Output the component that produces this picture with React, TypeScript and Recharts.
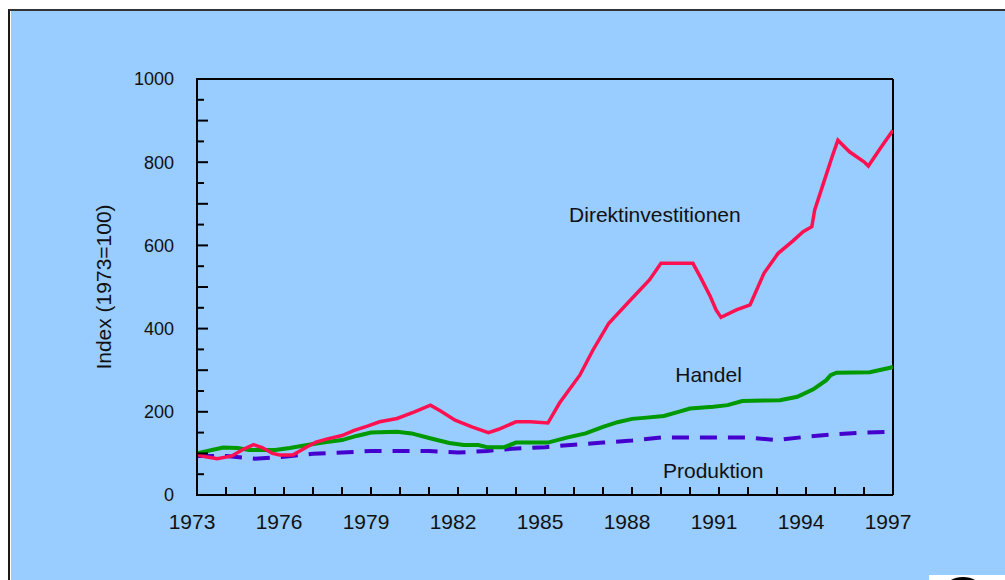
import React from 'react';
import { LineChart, Line, XAxis, YAxis, ReferenceLine, ReferenceDot } from 'recharts';

const FONT = '"Liberation Sans", Arial, Helvetica, sans-serif';

// Direktinvestitionen (index, 1973 = 100)
const fdiYears = [1973.0, 1973.3, 1973.7, 1974.2, 1974.6, 1974.95, 1975.25, 1975.6, 1975.85, 1976.3, 1976.5, 1976.8, 1977.1, 1977.5, 1978.0, 1978.4, 1978.9, 1979.3, 1979.9, 1980.5, 1981.05, 1981.4, 1981.9, 1982.5, 1983.05, 1983.4, 1984.0, 1984.5, 1985.1, 1985.5, 1986.2, 1986.65, 1987.2, 1987.9, 1988.6, 1989.0, 1990.1, 1990.35, 1990.7, 1990.9, 1991.07, 1991.6, 1992.07, 1992.55, 1993.04, 1993.55, 1993.9, 1994.2, 1994.3, 1994.6, 1994.9, 1995.1, 1995.5, 1996.0, 1996.15, 1996.6, 1997.0];
const fdiValues = [97, 92, 87, 94, 110, 121, 114, 100, 96, 96, 104, 116, 127, 135, 143, 155, 166, 176, 184, 200, 216, 202, 180, 163, 150, 158, 176, 176, 173, 221, 288, 348, 413, 465, 517, 557, 557, 525, 477, 445, 427, 445, 457, 533, 581, 611, 633, 645, 685, 749, 813, 853, 825, 801, 791, 837, 877];

// Handel
const tradeYears = [1973.0, 1973.9, 1974.4, 1974.8, 1975.7, 1976.2, 1976.8, 1977.4, 1978.0, 1978.5, 1979.0, 1979.9, 1980.4, 1981.0, 1981.7, 1982.2, 1982.7, 1983.0, 1983.6, 1984.0, 1985.1, 1985.75, 1986.4, 1987.0, 1987.5, 1988.0, 1988.5, 1989.1, 1989.6, 1990.0, 1990.8, 1991.3, 1991.8, 1993.1, 1993.7, 1994.25, 1994.7, 1994.85, 1995.05, 1996.2, 1996.9, 1997.0];
const tradeValues = [100, 114, 113, 108, 108, 113, 120, 127, 132, 142, 150, 152, 148, 137, 125, 120, 120, 115, 115, 126, 126, 138, 148, 164, 175, 183, 186, 190, 200, 208, 212, 216, 226, 228, 236, 254, 276, 288, 294, 295, 306, 308];

// Produktion
const prodYears = [1973, 1974, 1975, 1976, 1977, 1978, 1979, 1980, 1981, 1982, 1983, 1984, 1985, 1986, 1987, 1988, 1989, 1990, 1991, 1992, 1993, 1994, 1995, 1996, 1997];
const prodValues = [94, 94, 87, 92, 99, 102, 106, 106, 106, 102, 106, 112, 115, 121, 126, 131, 138, 138, 138, 138, 132, 140, 146, 150, 152];

const xTicks = [1973, 1974, 1975, 1976, 1977, 1978, 1979, 1980, 1981, 1982, 1983, 1984, 1985, 1986, 1987, 1988, 1989, 1990, 1991, 1992, 1993, 1994, 1995, 1996, 1997];
const xLabels = [1973, 1976, 1979, 1982, 1985, 1988, 1991, 1994, 1997];
const yTicks = [0, 50, 100, 150, 200, 250, 300, 350, 400, 450, 500, 550, 600, 650, 700, 750, 800, 850, 900, 950, 1000];
const yLabels = [0, 200, 400, 600, 800, 1000];

const seriesNames = ['Direktinvestitionen', 'Handel', 'Produktion'];
const labelPos = [
  { year: 1988.79, value: 674 },
  { year: 1990.64, value: 290 },
  { year: 1990.8, value: 58 },
];

const toRows = (xs: number[], vs: number[]) => xs.map((x, i) => ({ year: x, v: vs[i] }));
const fdiData = toRows(fdiYears, fdiValues);
const tradeData = toRows(tradeYears, tradeValues);
const prodData = toRows(prodYears, prodValues);

const XTick = (props: any) => {
  const { x, y, payload } = props;
  const v = payload.value;
  return (
    <g>
      <line x1={x} x2={x} y1={y} y2={y - 8} stroke="#000" strokeWidth={2} />
      {xLabels.includes(v) && (
        <text x={x - 5} y={y + 34} textAnchor="middle" fontSize={21} fill="#111" fontFamily={FONT}>
          {v}
        </text>
      )}
    </g>
  );
};

const YTick = (props: any) => {
  const { x, y, payload } = props;
  const v = payload.value;
  const major = v % 100 === 0;
  return (
    <g>
      <line x1={major ? x - 1 : x} x2={major ? x + 11 : x + 7} y1={y} y2={y} stroke="#000" strokeWidth={2} />
      {yLabels.includes(v) && (
        <text x={x - 23} y={y} dy={6.4} textAnchor="end" fontSize={18} fill="#111" fontFamily={FONT}>
          {v}
        </text>
      )}
    </g>
  );
};

const YTitle = (props: any) => {
  const vb = props.viewBox || { x: 97, y: 79, width: 100, height: 416 };
  const cx = vb.x + 6;
  const cy = vb.y + vb.height / 2;
  return (
    <text
      x={cx}
      y={cy}
      transform={`rotate(-90, ${cx}, ${cy})`}
      textAnchor="middle"
      dominantBaseline="central"
      fontSize={21}
      fill="#111"
      fontFamily={FONT}
    >
      Index (1973=100)
    </text>
  );
};

const AnnotationLabel = (text: string) => (props: any) => {
  const vb = props.viewBox || { x: 0, y: 0, width: 0, height: 0 };
  const cx = vb.x + (vb.width || 0) / 2;
  const cy = vb.y + (vb.height || 0) / 2;
  return (
    <text x={cx} y={cy} dy={7.5} textAnchor="middle" fontSize={21} fill="#111" fontFamily={FONT}>
      {text}
    </text>
  );
};

export default function App() {
  return (
    <div style={{ position: 'fixed', left: 0, top: 0, width: 1005, height: 580, overflow: 'hidden', background: '#fff' }}>
      <div
        style={{
          position: 'absolute',
          left: 8,
          top: 9,
          width: 1010,
          height: 600,
          background: '#99CCFF',
          borderLeft: '2px solid #1a1a1a',
          borderTop: '2px solid #333',
          boxShadow: 'inset 1px 0 0 #ffffff',
        }}
      />
      <div style={{ position: 'absolute', left: 929, top: 575, width: 80, height: 10, background: '#fff' }} />
      <div
        style={{
          position: 'absolute',
          left: 945,
          top: 577,
          width: 36,
          height: 20,
          borderTop: '3px solid #000',
          borderRadius: '50%',
        }}
      />
      <div style={{ position: 'absolute', left: 0, top: 0 }}>
        <LineChart width={1005} height={580} margin={{ top: 79, right: 112, bottom: 25, left: 97 }}>
          <XAxis
            dataKey="year"
            type="number"
            domain={[1973, 1997]}
            ticks={xTicks}
            interval={0}
            tickSize={0}
            tickMargin={0}
            tickLine={false}
            axisLine={{ stroke: '#000', strokeWidth: 2 }}
            tick={<XTick />}
            height={60}
            allowDataOverflow
          />
          <YAxis
            type="number"
            domain={[0, 1000]}
            ticks={yTicks}
            interval={0}
            tickSize={0}
            tickMargin={0}
            tickLine={false}
            axisLine={{ stroke: '#000', strokeWidth: 2 }}
            tick={<YTick />}
            width={100}
            label={<YTitle />}
            allowDataOverflow
          />
          <ReferenceLine y={1000} stroke="#000" strokeWidth={2} />
          <ReferenceLine x={1997} stroke="#000" strokeWidth={2} />
          <Line
            data={prodData}
            dataKey="v"
            name={seriesNames[2]}
            stroke="#4400CC"
            strokeWidth={4}
            strokeDasharray="17 11"
            dot={false}
            isAnimationActive={false}
          />
          <Line
            data={tradeData}
            dataKey="v"
            name={seriesNames[1]}
            stroke="#009900"
            strokeWidth={4}
            dot={false}
            isAnimationActive={false}
          />
          <Line
            data={fdiData}
            dataKey="v"
            name={seriesNames[0]}
            stroke="#FF1050"
            strokeWidth={3.5}
            dot={false}
            isAnimationActive={false}
          />
          {labelPos.map((p, i) => (
            <ReferenceDot
              key={seriesNames[i]}
              x={p.year}
              y={p.value}
              r={0}
              fill="none"
              stroke="none"
              label={AnnotationLabel(seriesNames[i])}
            />
          ))}
        </LineChart>
      </div>
    </div>
  );
}
